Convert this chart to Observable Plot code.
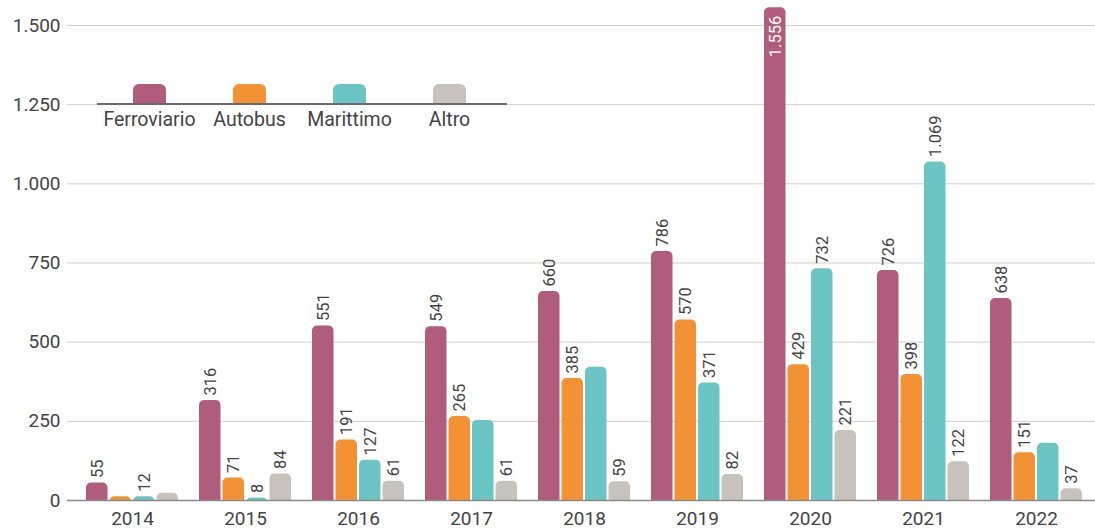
<!DOCTYPE html>
<html>
<head>
<meta charset="utf-8">
<script src="https://cdn.jsdelivr.net/npm/d3@7"></script>
<script src="https://cdn.jsdelivr.net/npm/@observablehq/plot@0.6"></script>
<style>
  html, body { margin: 0; padding: 0; background: #fff; }
  #wrap { position: relative; width: 1095px; height: 529px; font-family: Roboto, "Noto Sans", sans-serif; }
  #legend { position: absolute; left: 97px; top: 84px; width: 410px; height: 19px; border-bottom: 2px solid #6a6a6a; }
  .item { position: absolute; top: 0; width: 120px; margin-left: -60px; text-align: center; }
  .sw { width: 33px; height: 19px; margin: 0 auto; border-radius: 6px 6px 0 0; }
  .lab { margin-top: 5px; font-size: 19.5px; color: #444; white-space: nowrap; }
</style>
</head>
<body>
<div id="wrap"></div>
<script>
const years = [2014, 2015, 2016, 2017, 2018, 2019, 2020, 2021, 2022];
const seriesNames = ["Ferroviario", "Autobus", "Marittimo", "Altro"];
const seriesColors = ["#B05C7C", "#F39234", "#6CC5C5", "#C7C3BC"];
const ferroviario = [55, 316, 551, 549, 660, 786, 1556, 726, 638];
const autobus = [12, 71, 191, 265, 385, 570, 429, 398, 151];
const marittimo = [12, 8, 127, 253, 421, 371, 732, 1069, 181];
const altro = [23, 84, 61, 61, 59, 82, 221, 122, 37];
// bars shown without a value label in the reference
const unlabeled = [["Autobus", 2014], ["Altro", 2014], ["Marittimo", 2017], ["Marittimo", 2018], ["Marittimo", 2022]];
const yTicks = [0, 250, 500, 750, 1000, 1250, 1500];

const seriesValues = [ferroviario, autobus, marittimo, altro];
const rows = [];
seriesNames.forEach((s, i) => years.forEach((y, j) => rows.push({
  series: s, year: y, value: seriesValues[i][j],
  labeled: !unlabeled.some(([us, uy]) => us === s && uy === y)
})));

const it = d3.formatLocale({decimal: ",", thousands: ".", grouping: [3], currency: ["€", ""]});
const fmt = it.format(",d");

// layout within a year band (bandwidth ≈ 92px)
const barW = 21.5, gap = 2, bandW = 92;
const marks = [Plot.ruleY(yTicks, {stroke: "#cfcfcf", strokeWidth: 1})];
seriesNames.forEach((s, i) => {
  const left = i * (barW + gap);
  const right = bandW - left - barW;
  const data = rows.filter(d => d.series === s);
  marks.push(Plot.barY(data, {
    x: "year", y: "value", fill: seriesColors[i],
    insetLeft: left, insetRight: right, insetBottom: -10, rx: 5, clip: true
  }));
  const dx = left + barW / 2 - bandW / 2;
  marks.push(Plot.text(data.filter(d => d.labeled && d.value <= 1500), {
    x: "year", y: "value", text: d => fmt(d.value), rotate: -90,
    textAnchor: "start", lineAnchor: "middle", dx, dy: -5,
    fill: "#444", fontSize: 16.5
  }));
  marks.push(Plot.text(data.filter(d => d.labeled && d.value > 1500), {
    x: "year", y: "value", text: d => fmt(d.value), rotate: -90,
    textAnchor: "end", lineAnchor: "middle", dx, dy: 8,
    fill: "#fff", fontSize: 16.5
  }));
});
marks.push(Plot.ruleY([0], {stroke: "#8a8a8a", strokeWidth: 1.5}));

const chart = Plot.plot({
  width: 1095, height: 529,
  marginLeft: 67, marginRight: 0, marginTop: 5, marginBottom: 29,
  style: {fontFamily: "Roboto, 'Noto Sans', sans-serif", fontSize: "19px", color: "#444", background: "#fff"},
  x: {domain: years, type: "band", paddingInner: 0.189, paddingOuter: 0.128, align: 0.586,
      tickSize: 0, tickPadding: 11, tickFormat: d => String(d), label: null},
  y: {domain: [0, 1563], ticks: yTicks, tickFormat: fmt, tickSize: 0, tickPadding: 7, label: null},
  marks
});
const wrap = document.getElementById("wrap");
wrap.appendChild(chart);

// legend drawn over the plot area
const legend = document.createElement("div");
legend.id = "legend";
const centers = [52.5, 152.5, 252.5, 352.5];
seriesNames.forEach((s, i) => {
  const item = document.createElement("div");
  item.className = "item";
  item.style.left = centers[i] + "px";
  item.innerHTML = `<div class="sw" style="background:${seriesColors[i]}"></div><div class="lab">${s}</div>`;
  legend.appendChild(item);
});
wrap.appendChild(legend);
</script>
</body>
</html>
